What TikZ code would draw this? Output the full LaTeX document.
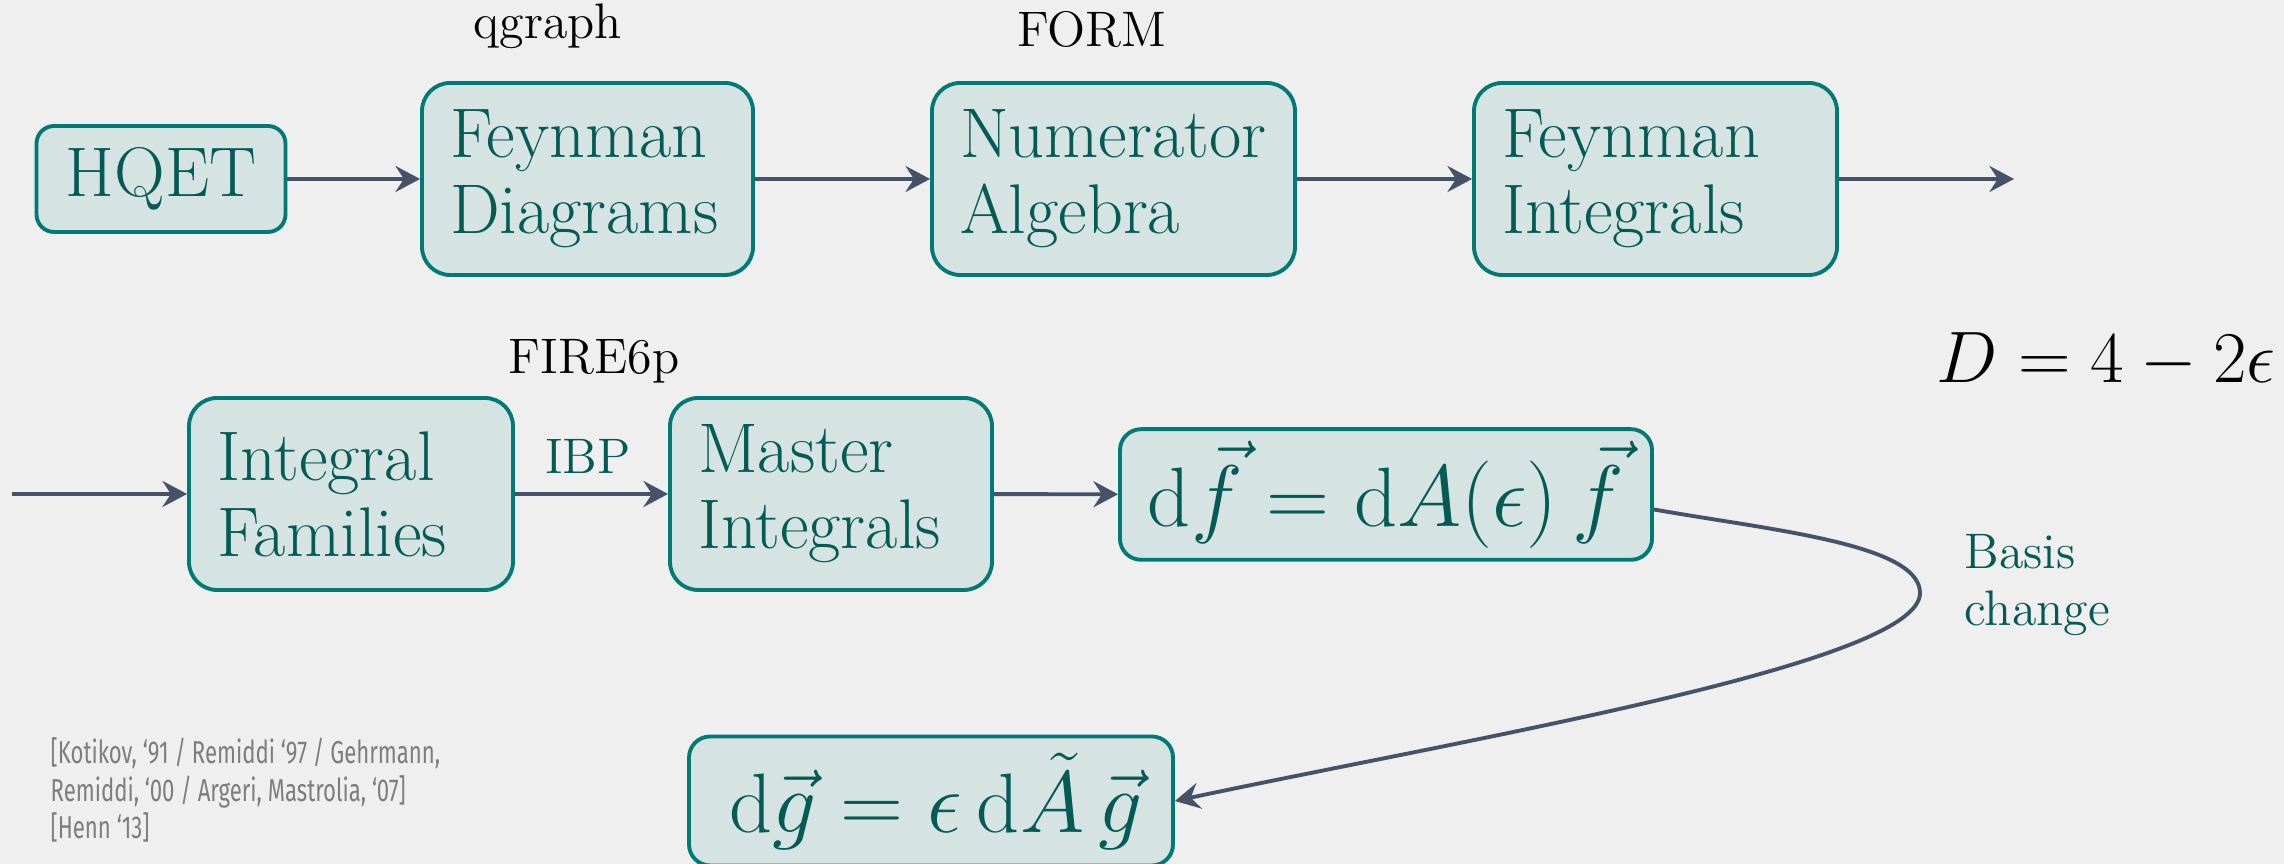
\documentclass[tikz,border=0pt]{standalone}
\usepackage{amsmath,amssymb}
\usepackage{fontspec}
\newfontfamily\reffont[FakeStretch=0.7]{Fira Sans}
\usetikzlibrary{positioning,arrows.meta}

\definecolor{slidebg}{RGB}{239,239,239}
\definecolor{boxfill}{RGB}{214,227,227}
\definecolor{boxline}{RGB}{0,122,116}
\definecolor{boxtext}{RGB}{4,90,84}
\definecolor{flowline}{RGB}{70,82,104}
\definecolor{refgray}{RGB}{125,125,125}

\tikzset{
  stagebox/.style={draw=boxline, line width=1.1pt, fill=boxfill, rounded corners=8pt,
    text=boxtext, font=\fontsize{20}{21.6}\selectfont, align=left,
    inner xsep=0.28cm, minimum height=1.92cm},
  eqbox/.style={stagebox, rounded corners=6pt, align=center, minimum height=1.29cm,
    font=\fontsize{24}{28}\selectfont},
  toollabel/.style={font=\fontsize{14.2}{16.2}\selectfont},
  flow/.style={-{Stealth[length=7pt,width=7.4pt,inset=2.4pt]}, flowline, line width=1.1pt},
}

\begin{document}
\begin{tikzpicture}
  % slide background
  \useasboundingbox (0,0) rectangle (22.84,8.64);
  \fill[slidebg] (0,0) rectangle (22.84,8.64);
  % first row: generation of the amplitude
  \node[stagebox, align=center, minimum width=2.49cm, minimum height=1.06cm, rounded corners=5pt] (hqet) at (1.61,6.85) {HQET};
  \node[stagebox, text width=2.75cm] (feyndiag) at (5.875,6.85) {Feynman\\Diagrams};
  \node[stagebox, text width=3.07cm] (numalg) at (11.135,6.85) {Numerator\\Algebra};
  \node[stagebox, text width=3.07cm] (feynint) at (16.555,6.85) {Feynman\\Integrals};
  \coordinate (rowout) at (20.14,6.85);
  \node[toollabel] (qgraph) at (5.48,8.38) {qgraph};
  \node[toollabel] (form) at (10.92,8.35) {FORM};
  \node[font=\fontsize{20}{24}\selectfont] (dimreg) at (21.06,5.03) {$D = 4 - 2\epsilon$};
  \draw[flow] (hqet) -- (feyndiag);
  \draw[flow] (feyndiag) -- (numalg);
  \draw[flow] (numalg) -- (feynint);
  \draw[flow] (feynint) -- (rowout);
  % second row: reduction and differential equations
  \coordinate (rowin) at (0.12,3.70);
  \node[stagebox, text width=2.68cm] (intfam) at (3.51,3.70) {Integral\\Families};
  \node[stagebox, text width=2.66cm] (master) at (8.31,3.70) {Master\\Integrals};
  \node[eqbox, minimum width=5.32cm] (deq) at (13.86,3.695) {$\mathrm{d}\vec{f} = \mathrm{d}A(\epsilon)\,\vec{f}$};
  \node[toollabel] (fire) at (5.94,5.03) {FIRE6p};
  \node[toollabel, text=boxtext] (ibp) at (5.88,4.08) {IBP};
  \draw[flow] (rowin) -- (intfam);
  \draw[flow] (intfam) -- (master);
  \draw[flow] (master) -- (deq);
  % canonical basis
  \node[eqbox, minimum width=4.84cm] (canon) at (9.31,0.63) {\hspace*{0.1cm}$\mathrm{d}\vec{g} = \epsilon\,\mathrm{d}\tilde{A}\,\vec{g}$};
  \coordinate (turn) at (19.20,2.71);
  \draw[flow] ([yshift=-1.5mm]deq.east) .. controls (17.7,3.34) and (19.2,3.2) .. (turn)
    .. controls (19.2,2.0) and (14.66,1.25) .. (canon.east);
  \node[toollabel, text=boxtext, align=left, anchor=west] (basis) at (19.52,2.79) {Basis\\change};
  % references
  \node[font=\reffont\fontsize{9}{10.7}\selectfont, text=refgray, align=left, anchor=north west, inner sep=0pt] (refs) at (0.50,1.27)
    {{[}Kotikov, ‘91 / Remiddi ‘97 / Gehrmann,\\Remiddi, ‘00 / Argeri, Mastrolia, ‘07{]}\\{[}Henn ‘13{]}};
\end{tikzpicture}
\end{document}
